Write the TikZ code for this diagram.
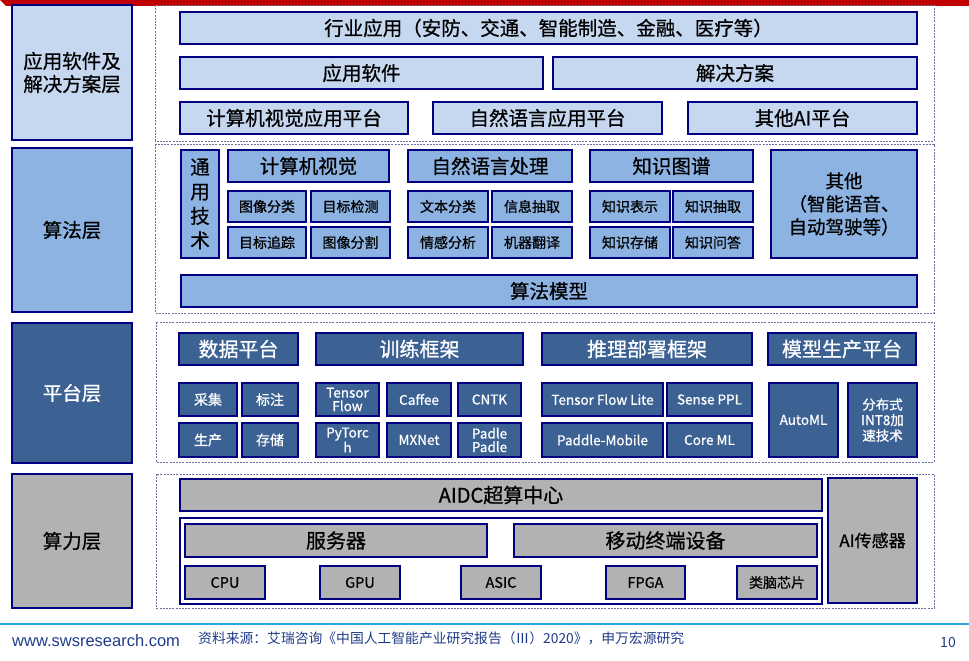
\documentclass[tikz,border=0pt]{standalone}
\usepackage{fontspec}
\setmainfont{Noto Sans CJK SC}[FakeBold=0.7]
\newfontfamily\webfont{Liberation Sans}
\newfontfamily\notefont{Noto Sans CJK SC}

\definecolor{navyline}{HTML}{000080}
\definecolor{lightfill}{HTML}{C6D7F0}
\definecolor{midfill}{HTML}{8DB3E2}
\definecolor{darkfill}{HTML}{3C6293}
\definecolor{grayfill}{HTML}{B2B2B2}
\definecolor{dashgray}{HTML}{7070A0}
\definecolor{bandred}{HTML}{C00000}
\definecolor{footblue}{HTML}{2AA6DE}
\definecolor{foottext}{HTML}{1F3C88}

\begin{document}
\begin{tikzpicture}[x=1pt,y=-1pt]
\tikzset{
  box/.style={draw=navyline,line width=2.2pt,inner sep=0pt,align=center},
  layer/.style={box,minimum width=120pt,font=\fontsize{19.5}{23}\selectfont},
  lightbox/.style={box,fill=lightfill,font=\fontsize{19.5}{23}\selectfont},
  midbox/.style={box,fill=midfill,font=\fontsize{19.5}{23}\selectfont},
  midsmall/.style={box,fill=midfill,font=\fontsize{14}{16}\selectfont},
  darkbox/.style={box,fill=darkfill,text=white,font=\fontsize{20}{23}\selectfont},
  darksmall/.style={box,fill=darkfill,text=white,font=\fontsize{13.5}{15}\selectfont},
  graybox/.style={box,fill=grayfill,font=\fontsize{20}{23}\selectfont},
  graysmall/.style={box,fill=grayfill,font=\fontsize{14.5}{16}\selectfont},
  group/.style={draw=dashgray,line width=0.9pt,dash pattern=on 2pt off 1.2pt}
}
\useasboundingbox (0,0) rectangle (969,661);

% red band on top
\fill[bandred] (0,0) -- (969,0) -- (969,6) -- (6,6) -- cycle;

% dashed groups
\draw[group] (155,5) rectangle (934,141);
\draw[group] (155,144) rectangle (934,313);
\draw[group] (156,322) rectangle (934,462);
\draw[group] (156,474) rectangle (934,608);

% layer labels
\node[layer,fill=lightfill,minimum height=135pt] (l_app) at (72,72.5) {应用软件及\\解决方案层};
\node[layer,fill=midfill,minimum height=164pt] (l_alg) at (72,230) {算法层};
\node[layer,fill=darkfill,text=white,minimum height=140pt] (l_plat) at (72,393) {平台层};
\node[layer,fill=grayfill,minimum height=134pt] (l_comp) at (72,541) {算力层};

% application layer
\node[lightbox,minimum width=737pt,minimum height=32pt] (a_ind) at (548.5,28) {行业应用（安防、交通、智能制造、金融、医疗等）};
\node[lightbox,minimum width=363pt,minimum height=32pt] (a_soft) at (361.5,73) {应用软件};
\node[lightbox,minimum width=364pt,minimum height=32pt] (a_sol) at (735,73) {解决方案};
\node[lightbox,minimum width=228pt,minimum height=32pt] (a_cv) at (294,118) {计算机视觉应用平台};
\node[lightbox,minimum width=229pt,minimum height=32pt] (a_nlp) at (547.5,118) {自然语言应用平台};
\node[lightbox,minimum width=229pt,minimum height=32pt] (a_ai) at (802.5,118) {其他AI平台};

% algorithm layer
\node[midbox,minimum width=38pt,minimum height=108pt,font=\fontsize{19.5}{24.5}\selectfont] (g_gen) at (200,204) {通\\用\\技\\术};
\node[midbox,minimum width=161pt,minimum height=32pt] (g_cv) at (308.5,166) {计算机视觉};
\node[midbox,minimum width=164pt,minimum height=32pt] (g_nlp) at (490,166) {自然语言处理};
\node[midbox,minimum width=163pt,minimum height=32pt] (g_kg) at (671.5,166) {知识图谱};
\node[midsmall,minimum width=78pt,minimum height=31pt] (g_cls) at (267,206.5) {图像分类};
\node[midsmall,minimum width=79pt,minimum height=31pt] (g_det) at (350.5,206.5) {目标检测};
\node[midsmall,minimum width=78pt,minimum height=31pt] (g_trk) at (267,242.5) {目标追踪};
\node[midsmall,minimum width=79pt,minimum height=31pt] (g_seg) at (350.5,242.5) {图像分割};
\node[midsmall,minimum width=80pt,minimum height=31pt] (g_txt) at (448,206.5) {文本分类};
\node[midsmall,minimum width=80pt,minimum height=31pt] (g_ie) at (532,206.5) {信息抽取};
\node[midsmall,minimum width=80pt,minimum height=31pt] (g_sent) at (448,242.5) {情感分析};
\node[midsmall,minimum width=80pt,minimum height=31pt] (g_mt) at (532,242.5) {机器翻译};
\node[midsmall,minimum width=80pt,minimum height=31pt] (g_rep) at (630,206.5) {知识表示};
\node[midsmall,minimum width=80pt,minimum height=31pt] (g_ext) at (713,206.5) {知识抽取};
\node[midsmall,minimum width=80pt,minimum height=31pt] (g_sto) at (630,242.5) {知识存储};
\node[midsmall,minimum width=80pt,minimum height=31pt] (g_qa) at (713,242.5) {知识问答};
\node[midbox,minimum width=146pt,minimum height=108pt,font=\fontsize{18.5}{23}\selectfont] (g_oth) at (844,204) {其他\\（智能语音、\\自动驾驶等）};
\node[midbox,minimum width=736pt,minimum height=32pt] (g_mod) at (549,291) {算法模型};

% platform layer
\node[darkbox,minimum width=119pt,minimum height=32pt] (p_data) at (238.5,349) {数据平台};
\node[darkbox,minimum width=207pt,minimum height=32pt] (p_train) at (419.5,349) {训练框架};
\node[darkbox,minimum width=210pt,minimum height=32pt] (p_inf) at (647,349) {推理部署框架};
\node[darkbox,minimum width=148pt,minimum height=32pt] (p_mp) at (842,349) {模型生产平台};
\node[darksmall,minimum width=58pt,minimum height=33pt,font=\fontsize{14}{16}\selectfont] (p_col) at (208,399.5) {采集};
\node[darksmall,minimum width=56pt,minimum height=33pt,font=\fontsize{14}{16}\selectfont] (p_lab) at (270,399.5) {标注};
\node[darksmall,minimum width=58pt,minimum height=34pt,font=\fontsize{14}{16}\selectfont] (p_gen) at (208,440) {生产};
\node[darksmall,minimum width=56pt,minimum height=34pt,font=\fontsize{14}{16}\selectfont] (p_sto) at (270,440) {存储};
\node[darksmall,minimum width=63pt,minimum height=33pt,font=\fontsize{13.5}{13.5}\selectfont] (p_tf) at (347.5,399.5) {Tensor\\Flow};
\node[darksmall,minimum width=64pt,minimum height=33pt] (p_caf) at (419,399.5) {Caffee};
\node[darksmall,minimum width=63pt,minimum height=33pt] (p_cntk) at (489.5,399.5) {CNTK};
\node[darksmall,minimum width=63pt,minimum height=34pt,font=\fontsize{13.5}{13.5}\selectfont] (p_pt) at (347.5,440) {PyTorc\\h};
\node[darksmall,minimum width=64pt,minimum height=34pt] (p_mx) at (419,440) {MXNet};
\node[darksmall,minimum width=63pt,minimum height=34pt,font=\fontsize{13.5}{13.5}\selectfont] (p_pp) at (489.5,440) {Padle\\Padle};
\node[darksmall,minimum width=121pt,minimum height=33pt] (p_tfl) at (602.5,399.5) {Tensor Flow Lite};
\node[darksmall,minimum width=85pt,minimum height=33pt] (p_ppl) at (709.5,399.5) {Sense PPL};
\node[darksmall,minimum width=121pt,minimum height=34pt] (p_pm) at (602.5,440) {Paddle-Mobile};
\node[darksmall,minimum width=85pt,minimum height=34pt] (p_cml) at (709.5,440) {Core ML};
\node[darksmall,minimum width=69pt,minimum height=74pt] (p_aml) at (803.5,420) {AutoML};
\node[darksmall,minimum width=69pt,minimum height=74pt,font=\fontsize{13.5}{15.5}\selectfont] (p_int) at (882.5,420) {分布式\\INT8加\\速技术};

% compute layer
\node[graybox,minimum width=642pt,minimum height=32pt] (c_aidc) at (501,495) {AIDC超算中心};
\node[box,fill=white,minimum width=642pt,minimum height=86pt] (c_dev) at (501,561) {};
\node[graybox,minimum width=302pt,minimum height=33pt] (c_srv) at (336,540.5) {服务器};
\node[graybox,minimum width=303pt,minimum height=33pt] (c_mob) at (665.5,540.5) {移动终端设备};
\node[graysmall,minimum width=80pt,minimum height=33pt] (c_cpu) at (225,582.5) {CPU};
\node[graysmall,minimum width=80pt,minimum height=33pt] (c_gpu) at (360,582.5) {GPU};
\node[graysmall,minimum width=80pt,minimum height=33pt] (c_asic) at (501,582.5) {ASIC};
\node[graysmall,minimum width=79pt,minimum height=33pt] (c_fpga) at (645.5,582.5) {FPGA};
\node[graysmall,minimum width=80pt,minimum height=33pt,font=\fontsize{14}{16}\selectfont] (c_brain) at (777,582.5) {类脑芯片};
\node[graybox,minimum width=89pt,minimum height=125pt,font=\fontsize{17}{20}\selectfont] (c_sens) at (872.5,540.5) {AI传感器};

% footer
\draw[footblue,line width=2pt] (0,624) -- (969,624);
\node[anchor=west,inner sep=0pt,text=foottext,font=\webfont\fontsize{16.5}{18}\selectfont] (f_web) at (12,641) {www.swsresearch.com};
\node[anchor=west,inner sep=0pt,text=foottext,font=\notefont\fontsize{13.8}{15}\selectfont] (f_src) at (198,638) {资料来源：艾瑞咨询《中国人工智能产业研究报告（Ⅲ）2020》，申万宏源研究};
\node[inner sep=0pt,text=foottext,font=\notefont\fontsize{14}{16}\selectfont] (f_page) at (948,643) {10};
\end{tikzpicture}
\end{document}
